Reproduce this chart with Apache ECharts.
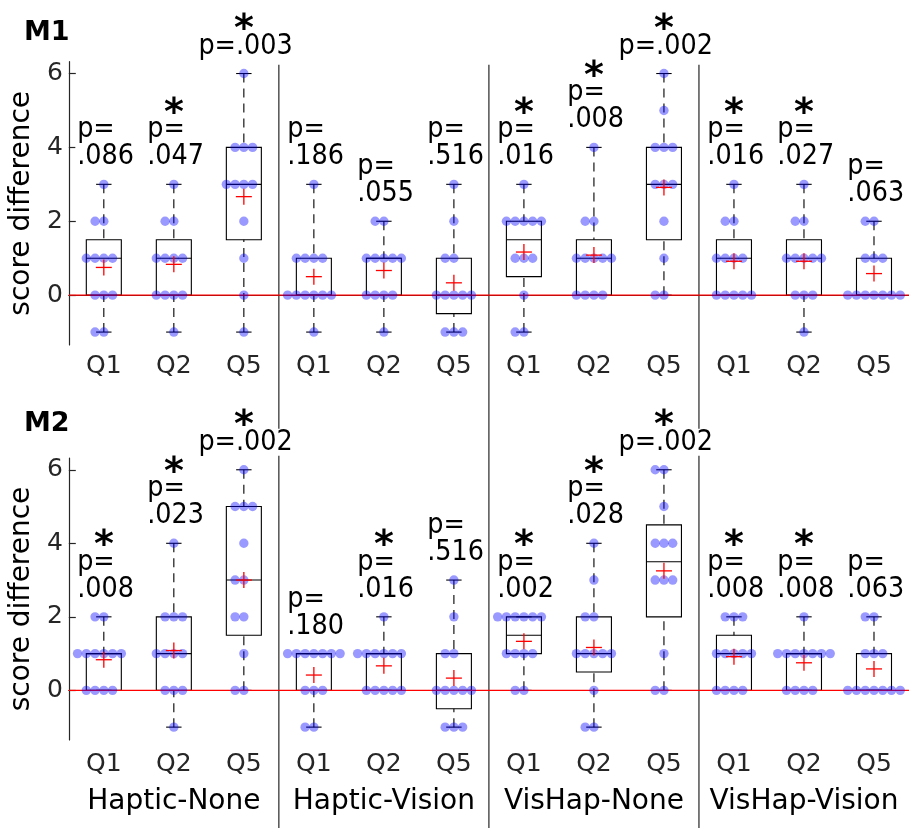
<!DOCTYPE html>
<html>
<head>
<meta charset="utf-8">
<script src="https://cdn.jsdelivr.net/npm/echarts@6/dist/echarts.min.js"></script>
<style>
  html, body { margin: 0; padding: 0; background: #fff; }
  #chart { width: 909px; height: 828px; }
</style>
</head>
<body>
<div id="chart"></div>
<script>
// Conditions and questions along the x axis
const groups = ['Haptic-None', 'Haptic-Vision', 'VisHap-None', 'VisHap-Vision'];
const questions = ['Q1', 'Q2', 'Q5'];
const panelNames = ['M1', 'M2'];
const yTicks = [0, 2, 4, 6];

// Per-participant score differences, one list per condition/question (12 participants)
const m1Scores = [
  [-1, -1, 0, 0, 0, 1, 1, 1, 1, 2, 2, 3],
  [-1, 0, 0, 0, 0, 1, 1, 1, 1, 2, 2, 3],
  [-1, 0, 1, 2, 3, 3, 3, 3, 4, 4, 4, 6],
  [-1, 0, 0, 0, 0, 0, 0, 1, 1, 1, 1, 3],
  [-1, 0, 0, 0, 0, 1, 1, 1, 1, 1, 2, 2],
  [-1, -1, -1, 0, 0, 0, 0, 0, 1, 1, 2, 3],
  [-1, -1, 0, 1, 1, 1, 2, 2, 2, 2, 2, 3],
  [0, 0, 0, 0, 1, 1, 1, 1, 1, 2, 2, 4],
  [0, 0, 1, 2, 3, 3, 3, 4, 4, 4, 5, 6],
  [0, 0, 0, 0, 0, 1, 1, 1, 1, 2, 2, 3],
  [-1, 0, 0, 0, 1, 1, 1, 1, 1, 2, 2, 3],
  [0, 0, 0, 0, 0, 0, 0, 1, 1, 1, 2, 2]
];
const m2Scores = [
  [0, 0, 0, 0, 1, 1, 1, 1, 1, 1, 2, 2],
  [-1, 0, 0, 0, 1, 1, 1, 1, 2, 2, 2, 4],
  [0, 0, 1, 2, 2, 3, 3, 4, 5, 5, 5, 6],
  [-1, -1, 0, 0, 0, 1, 1, 1, 1, 1, 1, 1],
  [0, 0, 0, 0, 0, 1, 1, 1, 1, 1, 1, 2],
  [-1, -1, -1, 0, 0, 0, 0, 0, 1, 1, 2, 3],
  [0, 0, 1, 1, 1, 1, 2, 2, 2, 2, 2, 2],
  [-1, -1, 0, 1, 1, 1, 1, 1, 2, 2, 3, 4],
  [0, 0, 1, 3, 3, 3, 4, 4, 4, 5, 6, 6],
  [0, 0, 0, 0, 1, 1, 1, 1, 1, 2, 2, 2],
  [0, 0, 0, 0, 1, 1, 1, 1, 1, 1, 1, 2],
  [0, 0, 0, 0, 0, 0, 0, 1, 1, 1, 2, 2]
];

// Wilcoxon p-values printed above each box
const m1P = ['.086', '.047', '.003', '.186', '.055', '.516', '.016', '.008', '.002', '.016', '.027', '.063'];
const m2P = ['.008', '.023', '.002', '.180', '.016', '.516', '.002', '.028', '.002', '.008', '.008', '.063'];

const categories = groups.flatMap(g => questions.map(q => g + ' ' + q));

const FONT = 'DejaVu Sans';
const AXIS_COLOR = '#262626';
const P_SIZE = 29;
const P_SCALE = 0.88;
const LINE_H = 27;
const LABEL_GAP = 14;
const STAR_GAP = 24;

const measureCtx = document.createElement('canvas').getContext('2d');
function textWidth(str, size) {
  measureCtx.font = size + 'px "' + FONT + '"';
  return measureCtx.measureText(str).width;
}

// Percentile with the midpoint rule (position n*p + 0.5, linear between ranks)
function quantile(sorted, p) {
  const n = sorted.length;
  const pos = n * p + 0.5;
  if (pos <= 1) return sorted[0];
  if (pos >= n) return sorted[n - 1];
  const lo = Math.floor(pos);
  const f = pos - lo;
  return sorted[lo - 1] + f * (sorted[lo] - sorted[lo - 1]);
}

function boxStats(scores) {
  return scores.map((s, i) => {
    const v = s.slice().sort((a, b) => a - b);
    return [i, v[0], quantile(v, 0.25), quantile(v, 0.5), quantile(v, 0.75), v[v.length - 1]];
  });
}

function means(scores) {
  return scores.map((s, i) => [i, s.reduce((a, b) => a + b, 0) / s.length]);
}

// Swarm layout: equal scores spread sideways around the box centre
function swarm(scores) {
  const out = [];
  scores.forEach((s, i) => {
    const counts = new Map();
    s.forEach(v => counts.set(v, (counts.get(v) || 0) + 1));
    counts.forEach((n, v) => {
      for (let j = 0; j < n; j++) out.push([i, v, j - Math.floor(n / 2)]);
    });
  });
  return out;
}

function renderBox(params, api) {
  const i = api.value(0);
  const bw = api.size([1, 0])[0];
  const x = api.coord([i, 0])[0];
  const y = v => api.coord([i, v])[1];
  const half = bw * 0.25;
  const cap = bw * 0.11;
  const lo = api.value(1), q1 = api.value(2), med = api.value(3), q3 = api.value(4), hi = api.value(5);
  const solid = { stroke: '#000', lineWidth: 1.1 };
  const dashed = { stroke: '#000', lineWidth: 1.1, lineDash: [9, 6] };
  return {
    type: 'group',
    children: [
      { type: 'line', shape: { x1: x, y1: y(hi), x2: x, y2: y(q3) }, style: dashed },
      { type: 'line', shape: { x1: x, y1: y(lo), x2: x, y2: y(q1) }, style: dashed },
      { type: 'line', shape: { x1: x - cap, y1: y(hi), x2: x + cap, y2: y(hi) }, style: solid },
      { type: 'line', shape: { x1: x - cap, y1: y(lo), x2: x + cap, y2: y(lo) }, style: solid },
      { type: 'rect', shape: { x: x - half, y: y(q3), width: 2 * half, height: y(q1) - y(q3) },
        style: { stroke: '#000', fill: 'none', lineWidth: 1.1 } },
      { type: 'line', shape: { x1: x - half, y1: y(med), x2: x + half, y2: y(med) }, style: solid }
    ]
  };
}

function renderMean(params, api) {
  const c = api.coord([api.value(0), api.value(1)]);
  const r = 8;
  const st = { stroke: '#ff0000', lineWidth: 1.3 };
  return {
    type: 'group',
    children: [
      { type: 'line', shape: { x1: c[0] - r, y1: c[1], x2: c[0] + r, y2: c[1] }, style: st },
      { type: 'line', shape: { x1: c[0], y1: c[1] - r, x2: c[0], y2: c[1] + r }, style: st }
    ]
  };
}

function renderDot(params, api) {
  const c = api.coord([api.value(0), api.value(1)]);
  const step = api.size([1, 0])[0] * 0.125;
  return {
    type: 'circle',
    shape: { cx: c[0] + api.value(2) * step, cy: c[1], r: 4.7 },
    style: { fill: 'rgba(0, 0, 255, 0.4)' }
  };
}

function renderZero(params, api) {
  const cs = params.coordSys;
  const y = api.coord([0, api.value(1)])[1];
  return {
    type: 'line',
    shape: { x1: cs.x, y1: y, x2: cs.x + cs.width, y2: y },
    style: { stroke: '#ff0000', lineWidth: 1.3 }
  };
}

// Vertical dividers between the four conditions, running down through both panels
function renderDivider(params, api) {
  const cs = params.coordSys;
  const i = api.value(0);
  const x = (api.coord([i - 1, 0])[0] + api.coord([i, 0])[0]) / 2;
  return {
    type: 'line',
    shape: { x1: x, y1: cs.y + 3, x2: x, y2: api.getHeight() },
    style: { stroke: AXIS_COLOR, lineWidth: 1.2 }
  };
}

// p-value block centred over the top whisker, lines left-aligned inside it
function makeLabelRenderer(pvals) {
  return function (params, api) {
    const i = api.value(0);
    const hi = api.value(1);
    const p = pvals[params.dataIndex];
    const pt = api.coord([i, hi]);
    const single = hi >= 5.5;
    const lines = single ? ['p=' + p] : ['p=', p];
    const blockW = Math.max(...lines.map(l => textWidth(l, P_SIZE))) * P_SCALE;
    const bottom = pt[1] - LABEL_GAP;
    const firstMid = bottom - (lines.length - 0.5) * LINE_H;
    const children = [{
      type: 'text', x: pt[0] - blockW / 2, y: bottom, scaleX: P_SCALE,
      style: {
        text: lines.join('\n'),
        x: 0, y: 0, align: 'left', verticalAlign: 'bottom',
        fontSize: P_SIZE, lineHeight: LINE_H, fontFamily: FONT, fill: '#000',
        backgroundColor: '#fff', padding: [0, 2]
      }
    }];
    if (parseFloat(p) < 0.05) {
      children.push({
        type: 'text', x: pt[0], y: firstMid - STAR_GAP + 8,
        style: {
          text: '*', x: 0, y: 0, align: 'center', verticalAlign: 'middle',
          fontSize: 38, fontWeight: 'bold', fontFamily: FONT, fill: '#000'
        }
      });
    }
    return { type: 'group', children };
  };
}

const gridRects = [
  { left: 67.5, top: 61.7, width: 851, height: 283.3 },
  { left: 67.5, top: 458, width: 851, height: 282 }
];

const xAxes = [0, 1].map(p => ({
  type: 'category', gridIndex: p, data: categories, boundaryGap: true,
  axisLine: { lineStyle: { color: AXIS_COLOR, width: 1.2 } },
  axisTick: { alignWithLabel: true, inside: true, length: 8, lineStyle: { color: AXIS_COLOR, width: 1.2 } },
  axisLabel: {
    interval: 0, formatter: (v, idx) => questions[idx % questions.length],
    fontSize: 25, fontFamily: FONT, color: AXIS_COLOR, margin: p === 0 ? 9 : 12
  },
  splitLine: { show: false }
}));
xAxes.push({
  type: 'category', gridIndex: 1, data: groups, position: 'bottom', offset: 40,
  axisLine: { show: false }, axisTick: { show: false },
  axisLabel: { interval: 0, fontSize: 28, fontFamily: FONT, color: '#000', margin: 8 },
  splitLine: { show: false }
});

const yAxes = [0, 1].map(p => ({
  type: 'value', gridIndex: p, min: -1.35, max: 6.32,
  axisLine: { show: true, lineStyle: { color: AXIS_COLOR, width: 1.2 } },
  axisTick: { show: true, inside: true, length: 7, customValues: yTicks, lineStyle: { color: AXIS_COLOR, width: 1.2 } },
  axisLabel: { customValues: yTicks, fontSize: 25, fontFamily: FONT, color: AXIS_COLOR, margin: 6 },
  splitLine: { show: false },
  name: 'score difference', nameLocation: 'middle', nameRotate: 90, nameGap: 26,
  nameTextStyle: { fontSize: 28, fontFamily: FONT, color: '#000' }
}));

const series = [];
[m1Scores, m2Scores].forEach((scores, p) => {
  const pvals = p === 0 ? m1P : m2P;
  const axes = { xAxisIndex: p, yAxisIndex: p };
  const stats = boxStats(scores);
  series.push({ type: 'custom', name: panelNames[p] + ' boxes', ...axes, z: 2,
    renderItem: renderBox, data: stats, encode: { x: 0, y: [1, 5] }, silent: true });
  series.push({ type: 'custom', name: panelNames[p] + ' zero', ...axes, z: 3,
    renderItem: renderZero, data: [[0, 0]], silent: true });
  series.push({ type: 'custom', name: panelNames[p] + ' scores', ...axes, z: 4,
    renderItem: renderDot, data: swarm(scores), encode: { x: 0, y: 1 }, silent: true });
  series.push({ type: 'custom', name: panelNames[p] + ' means', ...axes, z: 5,
    renderItem: renderMean, data: means(scores), encode: { x: 0, y: 1 }, silent: true });
  series.push({ type: 'custom', name: panelNames[p] + ' p-values', ...axes, z: 6,
    renderItem: makeLabelRenderer(pvals), data: stats.map(s => [s[0], s[5]]),
    encode: { x: 0, y: 1 }, silent: true });
});
series.push({ type: 'custom', name: 'dividers', xAxisIndex: 0, yAxisIndex: 0, z: 1,
  renderItem: renderDivider, data: [[3, 0], [6, 0], [9, 0]], silent: true });

const chart = echarts.init(document.getElementById('chart'), null, { renderer: 'canvas' });
chart.setOption({
  animation: false,
  backgroundColor: '#fff',
  title: [
    { text: panelNames[0], left: 19, top: 14, textStyle: { fontSize: 27, fontWeight: 'bold', fontFamily: FONT, color: '#000' } },
    { text: panelNames[1], left: 19, top: 405, textStyle: { fontSize: 27, fontWeight: 'bold', fontFamily: FONT, color: '#000' } }
  ],
  grid: gridRects,
  xAxis: xAxes,
  yAxis: yAxes,
  series
});
</script>
</body>
</html>
